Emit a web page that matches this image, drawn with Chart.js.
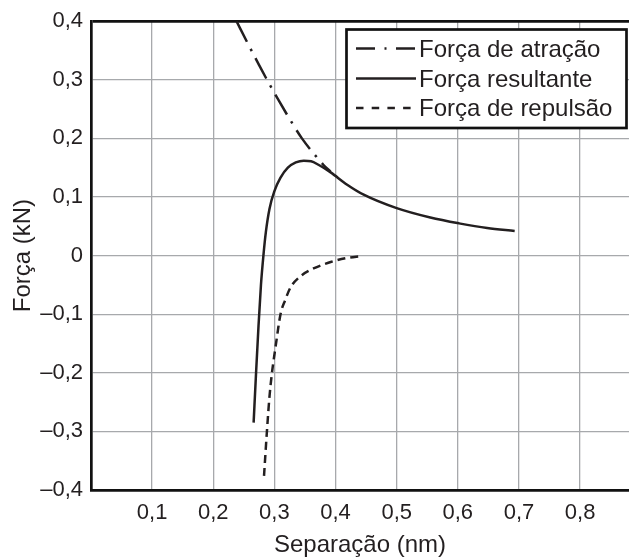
<!DOCTYPE html>
<html>
<head>
<meta charset="utf-8">
<script src="https://cdn.jsdelivr.net/npm/chart.js@4/dist/chart.umd.min.js"></script>
<style>
html,body{margin:0;padding:0;background:#fff;overflow:hidden;}
#wrap{width:629px;height:559px;}
</style>
</head>
<body>
<div id="wrap"><canvas id="c" width="629" height="559"></canvas></div>
<script>
// ---- data ----
const attractionX = [0.238, 0.257, 0.275, 0.290, 0.308, 0.325, 0.345, 0.366, 0.380, 0.392];
const attractionY = [0.400, 0.361, 0.325, 0.296, 0.263, 0.233, 0.200, 0.172, 0.155, 0.143];

const resultantX = [0.266, 0.270, 0.274, 0.278, 0.282, 0.286, 0.292, 0.300, 0.310, 0.322, 0.335, 0.348, 0.360, 0.372, 0.392, 0.419, 0.446, 0.500, 0.555, 0.602, 0.648, 0.693];
const resultantY = [-0.285, -0.200, -0.120, -0.050, 0.000, 0.040, 0.080, 0.110, 0.133, 0.150, 0.159, 0.162, 0.161, 0.155, 0.142, 0.121, 0.104, 0.081, 0.065, 0.055, 0.047, 0.042];

const repulsionX = [0.283, 0.288, 0.292, 0.296, 0.302, 0.310, 0.318, 0.326, 0.343, 0.364, 0.392, 0.419, 0.442];
const repulsionY = [-0.376, -0.296, -0.240, -0.200, -0.155, -0.100, -0.075, -0.055, -0.035, -0.022, -0.011, -0.004, -0.001];

const seriesLabels = ['Força de atração', 'Força resultante', 'Força de repulsão'];

const xTickValues = [0, 0.1, 0.2, 0.3, 0.4, 0.5, 0.6, 0.7, 0.8];
const xTickLabels = ['', '0,1', '0,2', '0,3', '0,4', '0,5', '0,6', '0,7', '0,8'];
const yTickValues = [-0.4, -0.3, -0.2, -0.1, 0, 0.1, 0.2, 0.3, 0.4];
const yTickLabels = ['–0,4', '–0,3', '–0,2', '–0,1', '0', '0,1', '0,2', '0,3', '0,4'];

const xTitle = 'Separação (nm)';
const yTitle = 'Força (kN)';

// ---- styling ----
const INK = '#231f20';
const GRID = '#a7a9ac';
const FONT = "'Liberation Sans', Arial, Helvetica, sans-serif";

function pts(xs, ys){ return xs.map((x,i)=>({x:x, y:ys[i]})); }
function lookup(values, labels, v){
  const i = values.findIndex(t => Math.abs(t - v) < 1e-6);
  return i >= 0 ? labels[i] : '';
}

const legendDash = [[19, 9.5, 2, 9.5], [], [7.5, 8.2]];

const boxLegend = {
  id: 'boxLegend',
  afterDraw(chart){
    const ctx = chart.ctx;
    ctx.save();
    const bx = 346.5, by = 29.5, bw = 280, bh = 98.5;
    ctx.fillStyle = '#fff';
    ctx.fillRect(bx, by, bw, bh);
    ctx.lineWidth = 2.7;
    ctx.strokeStyle = '#111';
    ctx.setLineDash([]);
    ctx.strokeRect(bx, by, bw, bh);
    const rowsY = [48.5, 78.5, 108];
    chart.data.datasets.forEach((ds, i) => {
      const y = rowsY[i];
      ctx.beginPath();
      ctx.setLineDash(legendDash[i]);
      ctx.lineWidth = 2.5;
      ctx.strokeStyle = ds.borderColor;
      ctx.moveTo(356, y);
      ctx.lineTo(416, y);
      ctx.stroke();
      ctx.setLineDash([]);
      ctx.fillStyle = INK;
      ctx.font = '24px ' + FONT;
      ctx.textBaseline = 'alphabetic';
      ctx.textAlign = 'left';
      ctx.fillText(ds.label, 419, y + 8.3);
    });
    ctx.restore();
  }
};

new Chart(document.getElementById('c'), {
  type: 'line',
  data: {
    datasets: [
      { label: seriesLabels[0], data: pts(attractionX, attractionY), borderColor: INK, borderWidth: 2.5,
        borderDash: [23, 8, 2.5, 8], pointRadius: 0, cubicInterpolationMode: 'monotone', fill: false },
      { label: seriesLabels[1], data: pts(resultantX, resultantY), borderColor: INK, borderWidth: 2.5,
        pointRadius: 0, cubicInterpolationMode: 'monotone', fill: false },
      { label: seriesLabels[2], data: pts(repulsionX, repulsionY), borderColor: INK, borderWidth: 2.5,
        borderDash: [8, 5], pointRadius: 0, cubicInterpolationMode: 'monotone', fill: false }
    ]
  },
  options: {
    responsive: false,
    animation: false,
    devicePixelRatio: 1,
    layout: { padding: { top: 21, left: 0, right: 0, bottom: 0 } },
    plugins: { legend: { display: false }, tooltip: { enabled: false } },
    scales: {
      x: {
        type: 'linear', min: 0, max: 0.88,
        afterFit(s){ s.height = 69; },
        ticks: { stepSize: 0.1, includeBounds: false, padding: 10, color: INK,
          font: { family: FONT, size: 22 },
          callback: (v) => lookup(xTickValues, xTickLabels, v), maxRotation: 0, autoSkip: false },
        grid: { color: GRID, lineWidth: 1.3, drawTicks: false },
        border: { display: true, color: '#111', width: 2.7 },
        title: { display: true, text: xTitle, color: INK, font: { family: FONT, size: 24, lineHeight: 1.1 },
          padding: { top: 0, bottom: 0 } }
      },
      y: {
        type: 'linear', min: -0.4, max: 0.4,
        afterFit(s){ s.width = 91; },
        ticks: { stepSize: 0.1, padding: 8, color: INK,
          font: { family: FONT, size: 22 },
          callback: (v) => lookup(yTickValues, yTickLabels, v), autoSkip: false },
        grid: { drawTicks: false,
          color: (c) => (c.tick && Math.abs(c.tick.value - 0.4) < 1e-6) ? '#111' : GRID,
          lineWidth: (c) => (c.tick && Math.abs(c.tick.value - 0.4) < 1e-6) ? 2.7 : 1.3 },
        border: { display: true, color: '#111', width: 2.7 },
        title: { display: true, text: yTitle, color: INK, font: { family: FONT, size: 24, lineHeight: 1.1 },
          padding: { top: 10, bottom: 0 } }
      }
    }
  },
  plugins: [boxLegend]
});
</script>
</body>
</html>
